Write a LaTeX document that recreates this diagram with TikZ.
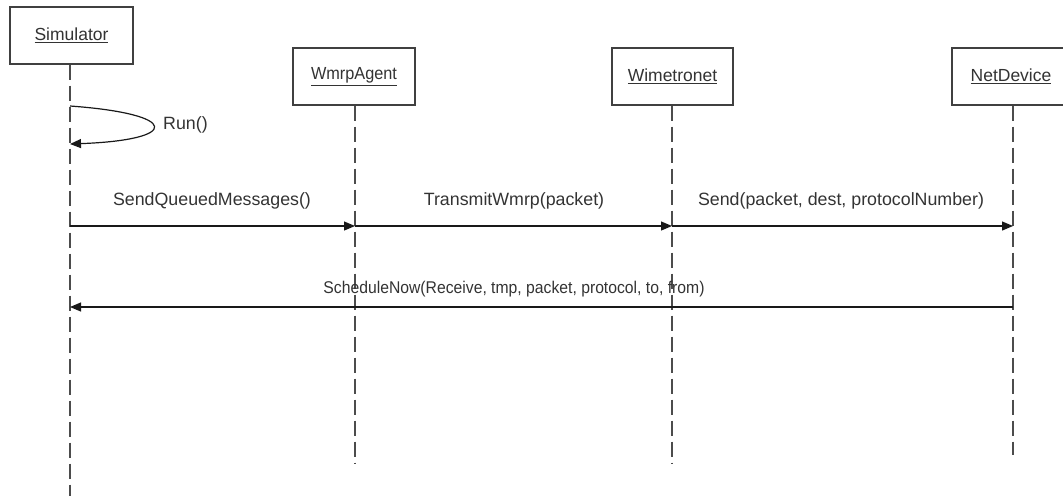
\documentclass[tikz,border=0pt]{standalone}
\usepackage{fontspec}
\setmainfont{Liberation Sans}
\usetikzlibrary{arrows.meta}
\begin{document}
\begin{tikzpicture}[x=1pt,y=-1pt,
  font=\fontsize{17.8}{20}\selectfont,
  every node/.style={text=black!80},
  objbox/.style={draw=black!75,line width=1.1pt,fill=white,inner sep=0pt,
    font=\fontsize{17.5}{20}\selectfont},
  lifeline/.style={draw=black!70,line width=1.2pt,dash pattern=on 15pt off 6pt},
  msg/.style={draw=black!90,line width=1.2pt,-{Triangle[length=11pt,width=9pt]}},
  lbl/.style={inner sep=0pt}]
\useasboundingbox (0,0) rectangle (1063,496);

% participants
\node[objbox,minimum width=123pt,minimum height=57pt] (sim) at (71.5,35.5) {\underline{Simulator}};
\node[objbox,minimum width=122pt,minimum height=57pt] (agent) at (354,76.5) {\underline{\scalebox{0.93}[1]{WmrpAgent}}};
\node[objbox,minimum width=121pt,minimum height=57pt] (wimet) at (672.5,76.5) {\underline{Wimetronet}};
\node[objbox,minimum width=118pt,minimum height=57pt] (netdev) at (1011,76.5) {\underline{NetDevice}};

% lifeline ends
\coordinate (simEnd) at (70,496);
\coordinate (agentEnd) at (355,463);
\coordinate (wimetEnd) at (672,463);
\coordinate (netdevEnd) at (1013,455);

\draw[lifeline] (sim.south -| simEnd) -- (simEnd);
\draw[lifeline] (agent.south -| agentEnd) -- (agentEnd);
\draw[lifeline] (wimet.south -| wimetEnd) -- (wimetEnd);
\draw[lifeline] (netdev.south -| netdevEnd) -- (netdevEnd);

% self call
\coordinate (runA) at (70,106);
\coordinate (runB) at (70,144);
\draw[msg] (runA) .. controls (181,114) and (181,140) .. (runB);
\node[lbl,anchor=west] (runL) at (163,125) {Run()};

% message rows
\coordinate (r1) at (0,226);
\coordinate (r2) at (0,307);

\draw[msg] (simEnd |- r1) -- (agentEnd |- r1);
\draw[msg] (agentEnd |- r1) -- (wimetEnd |- r1);
\draw[msg] (wimetEnd |- r1) -- (netdevEnd |- r1);
\draw[msg] (netdevEnd |- r2) -- (simEnd |- r2);

\node[lbl] (m1) at (212,201) {SendQueuedMessages()};
\node[lbl] (m2) at (514,201) {TransmitWmrp(packet)};
\node[lbl] (m3) at (841,201) {Send(packet, dest, protocolNumber)};
\node[lbl,font=\fontsize{17}{20}\selectfont] (m4) at (514,289)
  {\scalebox{0.925}[1]{ScheduleNow(Receive, tmp, packet, protocol, to, from)}};
\end{tikzpicture}
\end{document}
